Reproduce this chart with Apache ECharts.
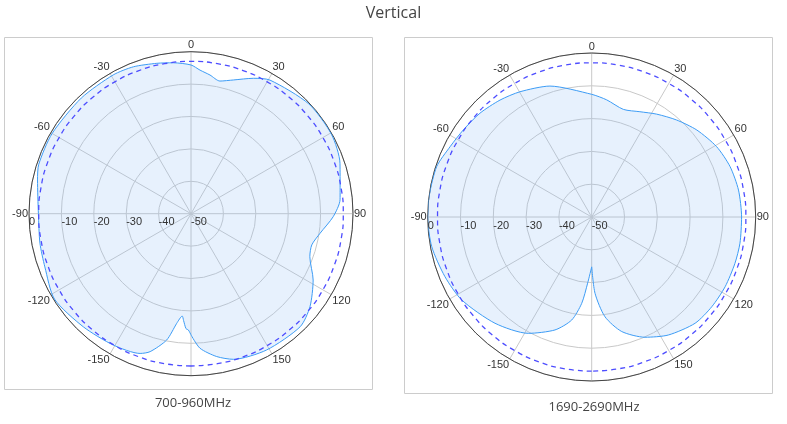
<!DOCTYPE html>
<html>
<head>
<meta charset="utf-8">
<script src="https://cdn.jsdelivr.net/npm/echarts@6/dist/echarts.min.js"></script>
<style>
  html, body { margin: 0; padding: 0; background: #fff; }
  #main { width: 787px; height: 424px; }
</style>
</head>
<body>
<div id="main"></div>
<script>
// pattern data, dB vs angle (deg)
const angles1 = [-180, -178.7, -177.5, -176, -175.1, -172.6, -169.1, -163.5, -160, -149.4, -136.4, -122, -110, -101, -90, -77.6, -72, -60, -43.5, -29.3, -21.4, -12.8, -6.7, 0, 3.6, 7.8, 12.3, 17.6, 24.7, 30.6, 47, 60.5, 71.3, 81, 84.7, 91.2, 98.6, 104.5, 109.9, 118.5, 128, 136, 151, 163.8, 169.8, 176.2, 180];
const values1 = [-12.6, -14.1, -14.5, -17, -18.3, -15.9, -10.3, -5.6, -4.1, -2.9, -1.8, -0.3, -2, -2.5, -2.9, -1.5, -0.6, -0.5, -0.8, -0.9, -1.3, -2.4, -3.1, -4.1, -5.6, -6.8, -8.1, -6.7, -4, -2.1, -0.3, -0.2, -1.45, -3.4, -3.8, -6.1, -9.7, -11.5, -11, -7.1, -3.4, -1.5, -1.9, -3.2, -5.2, -8.4, -12.6];

const angles2 = [-180, -176.5, -173.4, -169, -162, -151.4, -137.7, -122.6, -112.1, -100.5, -90, -82.9, -72, -63.6, -55.9, -47.1, -38.1, -29.8, -17.7, 0, 7.3, 16.4, 24.6, 32.3, 41.2, 50.4, 60.6, 70, 79.6, 90, 100, 108, 117.6, 126.8, 135.8, 147, 156.1, 165.3, 172.4, 177.5, 180];
const values2 = [-34.8, -29.8, -23.5, -18, -13.8, -9.6, -6.2, -3, -1.7, -0.4, 0, 0, -0.3, -1.8, -2.7, -3.5, -4.7, -6, -8.1, -12.6, -14, -15.8, -14.7, -12.9, -10.7, -8.4, -6.3, -5.1, -4.5, -4.3, -4.1, -4.1, -4.1, -4.3, -4.8, -7.1, -9.9, -13.9, -19.3, -26.7, -34.8];

// -3 dB reference ring
const refAngles = [-180, -170, -160, -150, -140, -130, -120, -110, -100, -90, -80, -70, -60, -50, -40, -30, -20, -10, 0,
  10, 20, 30, 40, 50, 60, 70, 80, 90, 100, 110, 120, 130, 140, 150, 160, 170, 180];
const refLevel = -3;

const radiusTicks = { min: -50, max: 0, interval: 10 };
const captions = ['700-960MHz', '1690-2690MHz'];

const chart = echarts.init(document.getElementById('main'));
const labelFont = { fontFamily: 'Liberation Sans', fontSize: 11, color: '#333' };
const polars = [
  { center: [191, 213.7], radius: 162 },
  { center: [591.7, 217], radius: 164 }
];

const polarList = [], angleAxes = [], radiusAxes = [], series = [];
polars.forEach((p, i) => {
  // grid polar
  polarList.push({ center: p.center, radius: p.radius });
  angleAxes.push({
    polarIndex: 2 * i, type: 'value', min: -180, max: 180, interval: 30,
    startAngle: 270, clockwise: true,
    axisLine: { lineStyle: { color: '#444', width: 1 } },
    axisTick: { show: false },
    axisLabel: Object.assign({ margin: 1, formatter: v => v === 180 ? '±180' : (v === -180 ? '' : String(v)) }, labelFont),
    splitLine: { lineStyle: { color: '#c8c8c8', width: 1 } }
  });
  radiusAxes.push({
    polarIndex: 2 * i, type: 'value', ...radiusTicks,
    axisLine: { show: false }, axisTick: { show: false }, axisLabel: { show: false },
    splitLine: { lineStyle: { color: '#c8c8c8', width: 1 } }
  });
  // label polar (radius labels along the -90 spoke)
  polarList.push({ center: p.center, radius: p.radius });
  angleAxes.push({
    polarIndex: 2 * i + 1, type: 'value', min: -180, max: 180, startAngle: 180, show: false
  });
  radiusAxes.push({
    polarIndex: 2 * i + 1, type: 'value', ...radiusTicks, z: 5,
    axisLine: { show: false }, axisTick: { show: false }, splitLine: { show: false },
    axisLabel: Object.assign({ margin: 3, align: 'left', verticalAlign: 'top', formatter: v => String(v) }, labelFont)
  });

  const angs = i === 0 ? angles1 : angles2;
  const vals = i === 0 ? values1 : values2;
  series.push({
    type: 'line', coordinateSystem: 'polar', polarIndex: 2 * i,
    data: angs.map((a, k) => [vals[k], a]),
    smooth: 0.25, symbol: 'none',
    lineStyle: { color: '#3d9cf5', width: 1 },
    areaStyle: { origin: 'start', color: 'rgba(140, 190, 245, 0.3)' },
    z: 2
  });
  series.push({
    type: 'line', coordinateSystem: 'polar', polarIndex: 2 * i,
    data: refAngles.map(a => [refLevel, a]),
    smooth: true, symbol: 'none',
    lineStyle: { color: '#4d4dff', width: 1.3, type: [5, 4] },
    z: 3
  });
});

chart.setOption({
  animation: false,
  title: [
    { text: 'Vertical', left: 'center', top: 0, textStyle: { fontFamily: 'Open Sans', fontSize: 16, fontWeight: 'normal', color: '#444' } },
    { text: captions[0], left: 188, top: 392, textAlign: 'center', textStyle: { fontFamily: 'Open Sans', fontSize: 13, fontWeight: 'normal', color: '#444' } },
    { text: captions[1], left: 589, top: 396, textAlign: 'center', textStyle: { fontFamily: 'Open Sans', fontSize: 13, fontWeight: 'normal', color: '#444' } }
  ],
  graphic: [
    { type: 'rect', shape: { x: 4.5, y: 37.5, width: 368, height: 352 }, style: { fill: 'none', stroke: '#ccc', lineWidth: 1 }, z: -10 },
    { type: 'rect', shape: { x: 404.5, y: 37.5, width: 368, height: 356 }, style: { fill: 'none', stroke: '#ccc', lineWidth: 1 }, z: -10 }
  ],
  polar: polarList,
  angleAxis: angleAxes,
  radiusAxis: radiusAxes,
  series: series
});
</script>
</body>
</html>
